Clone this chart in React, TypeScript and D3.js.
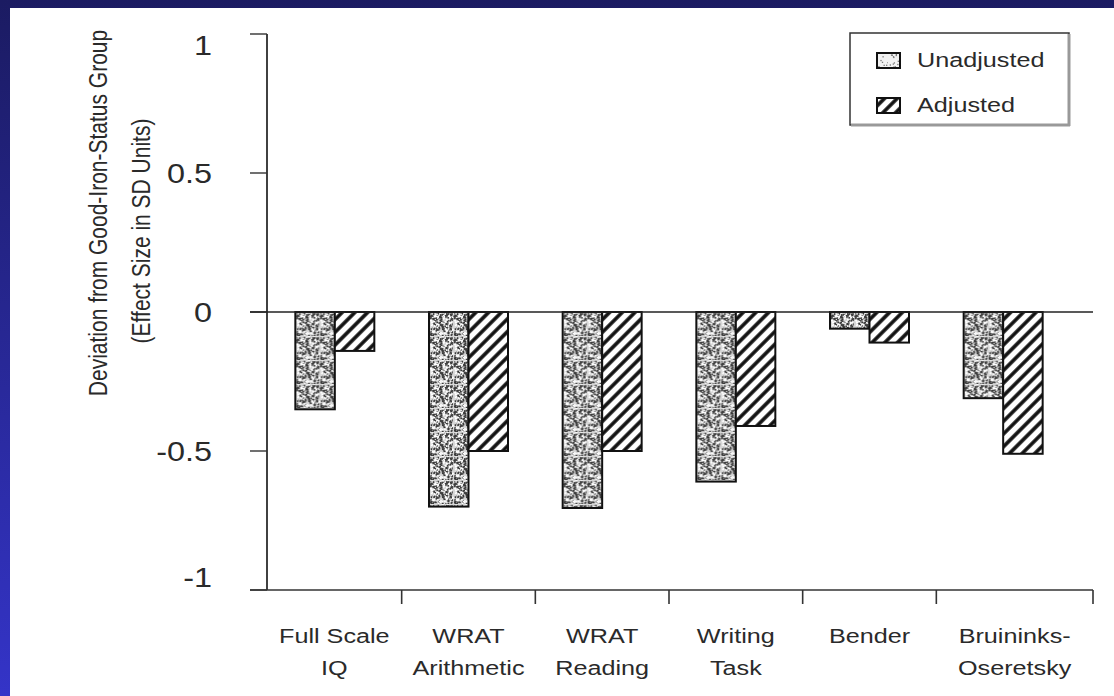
import React from "react";
import * as d3 from "d3";

// ---- data ----
const categories = ["Full Scale IQ", "WRAT Arithmetic", "WRAT Reading", "Writing Task", "Bender", "Bruininks-Oseretsky"];
const categoryLines = [["Full Scale", "IQ"], ["WRAT", "Arithmetic"], ["WRAT", "Reading"], ["Writing", "Task"], ["Bender"], ["Bruininks-", "Oseretsky"]];
const seriesNames = ["Unadjusted", "Adjusted"];
const unadjusted = [-0.35, -0.7, -0.705, -0.61, -0.06, -0.31];
const adjusted = [-0.14, -0.5, -0.5, -0.41, -0.11, -0.51];
const yTicks = [1, 0.5, 0, -0.5, -1];
const yTickLabels = ["1", "0.5", "0", "-0.5", "-1"];
const yTitle = ["Deviation from Good-Iron-Status Group", "(Effect Size in SD Units)"];

const W = 1114;
const H = 696;
const FONT = "'Liberation Sans', Arial, sans-serif";
const STRETCH = 1.2; // the scanned figure is wider than tall

// speckle texture for the "unadjusted" fill (seeded, texture only)
const grain = d3.randomLcg(0.137);
const speckles = d3.range(300).map(() => ({ x: grain() * 24, y: grain() * 24, k: grain() }));

export default function App() {
	const yScale = d3.scaleLinear().domain([-1, 1]).range([590, 34]);
	const x0 = d3.scaleBand().domain(categories).range([268, 1070]).paddingInner(0.409).paddingOuter(0.2045);
	const x1 = d3.scaleBand().domain(seriesNames).range([0, x0.bandwidth()]);
	const axisLeft = 267;
	const axisEnd = 1093;
	const step = x0.step();
	const bounds = categories.map((_, i) => 268 + step * i);
	bounds.push(axisEnd);
	bounds[0] = axisLeft;

	const vals = [unadjusted, adjusted];
	const fills = ["url(#stipple)", "url(#hatch)"];

	const sText = (x, y, txt, size, anchor, extra = {}) => (
		<g transform={`translate(${x},${y}) scale(${STRETCH},1)`}>
			<text fontSize={size} fontFamily={FONT} fill="#2a2a2a" textAnchor={anchor} {...extra}>
				{txt}
			</text>
		</g>
	);

	return (
		<svg width={W} height={H} style={{ position: "absolute", left: 0, top: 0 }}>
			<defs>
				<linearGradient id="frame" x1="0" y1="0" x2="0" y2="1">
					<stop offset="0" stopColor="#1b1b62" />
					<stop offset="1" stopColor="#3434c8" />
				</linearGradient>
				<pattern id="stipple" width={24} height={24} patternUnits="userSpaceOnUse">
					<rect width={24} height={24} fill="#d6d6d6" />
					{speckles.map((d, i) => (
						<rect key={i} x={d.x} y={d.y} width={1.7} height={1.7} fill={d.k < 0.55 ? "#3a3a3a" : "#fff"} />
					))}
				</pattern>
				<pattern id="stippleLight" width={24} height={24} patternUnits="userSpaceOnUse">
					<rect width={24} height={24} fill="#f2f2f2" />
					{speckles.slice(0, 40).map((d, i) => (
						<rect key={i} x={d.x} y={d.y} width={1.3} height={1.3} fill="#777" />
					))}
				</pattern>
				<pattern id="hatch" width={9} height={9} patternUnits="userSpaceOnUse" patternTransform="rotate(45)">
					<rect width={9} height={9} fill="#fff" />
					<line x1={2} y1={0} x2={2} y2={9} stroke="#111" strokeWidth={3.6} />
				</pattern>
			</defs>

			{/* frame */}
			<rect width={W} height={H} fill="url(#frame)" />
			<rect x={10} y={8} width={W - 10} height={H - 8} fill="#fff" />

			{/* y title */}
			{yTitle.map((t, i) => (
				<g key={t} transform={`translate(${i === 0 ? 107 : 150},${i === 0 ? 213 : 231}) scale(${STRETCH},1) rotate(-90)`}>
					<text fontSize={21} fontFamily={FONT} fill="#2a2a2a" textAnchor="middle">
						{t}
					</text>
				</g>
			))}

			{/* y axis */}
			<line x1={axisLeft} x2={axisLeft} y1={yScale(1)} y2={yScale(-1)} stroke="#111" strokeWidth={1.6} />
			{yTicks.map((v, i) => {
				const y = yScale(v);
				const ly = Math.min(Math.max(y, 45), 577);
				return (
					<g key={v}>
						<line x1={250} x2={axisLeft} y1={y} y2={y} stroke="#333" strokeWidth={1.4} />
						{sText(212, ly, yTickLabels[i], 27, "end", { dy: "0.36em" })}
					</g>
				);
			})}

			{/* bars */}
			{categories.map((c, i) => (
				<g key={c} transform={`translate(${x0(c)},0)`}>
					{seriesNames.map((s, j) => {
						const v = vals[j][i];
						return (
							<rect
								key={s}
								x={x1(s)}
								y={yScale(0)}
								width={x1.bandwidth()}
								height={yScale(v) - yScale(0)}
								fill={fills[j]}
								stroke="#111"
								strokeWidth={2}
							/>
						);
					})}
				</g>
			))}

			{/* zero line */}
			<line x1={250} x2={axisEnd} y1={yScale(0)} y2={yScale(0)} stroke="#222" strokeWidth={1.6} />

			{/* x axis */}
			<line x1={250} x2={axisEnd} y1={yScale(-1)} y2={yScale(-1)} stroke="#333" strokeWidth={1.6} />
			{bounds.slice(1).map((b, i) => (
				<line key={i} x1={b} x2={b} y1={yScale(-1)} y2={yScale(-1) + 14} stroke="#333" strokeWidth={1.6} />
			))}
			{categoryLines.map((lines, i) => {
				const cx = (bounds[i] + bounds[i + 1]) / 2;
				return (
					<g key={i}>
						{lines.map((ln, k) => (
							<React.Fragment key={k}>{sText(cx, 643 + k * 32, ln, 21, "middle")}</React.Fragment>
						))}
					</g>
				);
			})}

			{/* legend */}
			<rect x={850} y={33} width={219} height={92} fill="#fff" stroke="#333" strokeWidth={1.5} />
			<line x1={1069} x2={1069} y1={34} y2={126} stroke="#999" strokeWidth={3} />
			<line x1={851} x2={1070} y1={125} y2={125} stroke="#999" strokeWidth={3} />
			{seriesNames.map((s, j) => (
				<g key={s}>
					<rect
						x={877}
						y={53 + j * 45}
						width={23}
						height={15}
						fill={j === 0 ? "url(#stippleLight)" : "url(#hatch)"}
						stroke="#111"
						strokeWidth={2}
					/>
					{sText(917, 67 + j * 45, s, 21, "start")}
				</g>
			))}
		</svg>
	);
}
